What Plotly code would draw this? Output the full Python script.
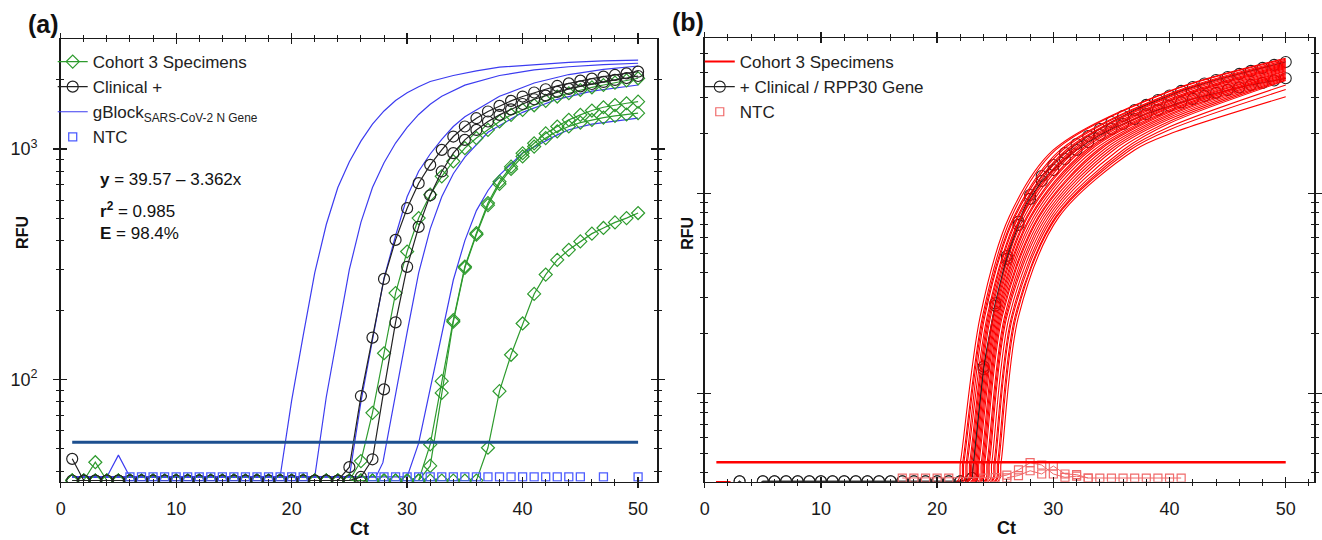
import plotly.graph_objects as go

W, H = 1322, 540
CYCLES = list(range(1, 51))

# ---------------- panel (a) data (RFU per cycle) ----------------
A_CLINICAL_1 = [
    45.3, 36.5, 36.5, 36.5, 36.5, 36.5, 36.5, 36.5, 36.5, 36.5,
    36.5, 36.5, 36.5, 36.5, 36.5, 36.5, 36.5, 36.5, 36.5, 36.5,
    36.5, 36.5, 36.5, 36.5, 41.7, 84.8, 152, 273, 403, 553,
    710, 852, 990, 1131, 1250, 1358, 1452, 1536, 1615, 1686,
    1755, 1813, 1874, 1923, 1976, 2015, 2057, 2091, 2125, 2161,
]
A_CLINICAL_2 = [
    36.5, 36.5, 36.5, 36.5, 36.5, 36.5, 36.5, 36.5, 36.5, 36.5,
    36.5, 36.5, 36.5, 36.5, 36.5, 36.5, 36.5, 36.5, 36.5, 36.5,
    36.5, 36.5, 36.5, 36.5, 36.5, 37.8, 45.1, 90.6, 177, 308,
    459, 629, 798, 958, 1094, 1208, 1314, 1404, 1484, 1565,
    1641, 1702, 1766, 1820, 1867, 1911, 1950, 1990, 2028, 2070,
]
A_COHORT_1 = [
    36.5, 36.5, 36.5, 36.5, 36.5, 36.5, 36.5, 36.5, 36.5, 36.5,
    36.5, 36.5, 36.5, 36.5, 36.5, 36.5, 36.5, 36.5, 36.5, 36.5,
    36.5, 36.5, 36.5, 36.5, 36.5, 44.3, 71.7, 130, 237, 359,
    501, 633, 760, 883, 1008, 1114, 1208, 1314, 1404, 1476,
    1545, 1615, 1686, 1742, 1800, 1849, 1892, 1936, 1982, 2023,
]
A_COHORT_2 = [
    36.5, 36.5, 36.5, 36.5, 36.5, 36.5, 36.5, 36.5, 36.5, 36.5,
    36.5, 36.5, 36.5, 36.5, 36.5, 36.5, 36.5, 36.5, 36.5, 36.5,
    36.5, 36.5, 36.5, 36.5, 36.5, 36.5, 36.5, 36.5, 36.5, 36.5,
    36.5, 52.3, 98.4, 181, 309, 431, 582, 721, 837, 957,
    1057, 1167, 1250, 1336, 1404, 1466, 1515, 1549, 1577, 1602,
]
A_COHORT_3 = [
    36.5, 36.5, 36.5, 36.5, 36.5, 36.5, 36.5, 36.5, 36.5, 36.5,
    36.5, 36.5, 36.5, 36.5, 36.5, 36.5, 36.5, 36.5, 36.5, 36.5,
    36.5, 36.5, 36.5, 36.5, 36.5, 36.5, 36.5, 36.5, 36.5, 36.5,
    36.5, 42.2, 87.5, 178, 305, 425, 570, 705, 818, 927,
    1023, 1114, 1191, 1250, 1300, 1336, 1367, 1390, 1409, 1428,
]
A_COHORT_4 = [
    36.5, 36.5, 43.8, 36.5, 36.5, 36.5, 36.5, 36.5, 36.5, 36.5,
    36.5, 36.5, 36.5, 36.5, 36.5, 36.5, 36.5, 36.5, 36.5, 36.5,
    36.5, 36.5, 36.5, 36.5, 36.5, 36.5, 36.5, 36.5, 36.5, 36.5,
    36.5, 36.5, 36.5, 36.5, 36.5, 36.5, 50.6, 89, 128, 175,
    235, 285, 330, 365, 397, 429, 454, 480, 501, 527,
]
A_NTC_CT = [6, 7, 8, 9, 10, 11, 12, 13, 14, 15, 16, 17, 18, 19, 20, 21,
            27, 28, 29, 30, 31, 32, 33, 34, 35, 36, 37, 38, 39, 40, 41, 42,
            43, 44, 45, 47, 50]
A_NTC_RFU = [37.8, 37.8, 37.8, 37.8, 37.8, 37.8, 37.8, 37.8, 37.8, 37.8,
             37.8, 37.8, 37.8, 37.8, 37.8, 37.8, 37.8, 37.8, 37.8, 37.8,
             37.8, 37.8, 37.8, 37.8, 37.8, 37.8, 37.8, 37.8, 37.8, 37.8,
             37.8, 37.8, 37.8, 37.8, 37.8, 37.8, 37.8]

# gBlock standard curves (Ct, RFU)
A_GB1_CT = [1, 4, 5, 6, 19, 20, 21, 22, 23, 24, 25, 26, 27, 28, 29, 30, 31, 32, 34, 36, 38, 41, 44, 47, 50]
A_GB1_RFU = [37.8, 37.8, 47, 37.8, 37.8, 81, 155, 290, 470, 680, 880, 1080, 1280, 1460, 1620, 1750,
             1860, 1960, 2080, 2180, 2260, 2320, 2370, 2405, 2427]
A_GB2_CT = [1, 22, 23, 24, 25, 26, 27, 28, 29, 30, 31, 32, 33, 35, 38, 41, 44, 47, 50]
A_GB2_RFU = [37.8, 37.8, 84, 160, 300, 480, 680, 870, 1060, 1240, 1410, 1560, 1690, 1890, 2080, 2200,
             2270, 2320, 2350]
A_GB3_CT = [1, 25, 26, 27, 28, 29, 30, 31, 32, 33, 34, 35, 38, 41, 44, 47, 50]
A_GB3_RFU = [37.8, 37.8, 80, 150, 275, 420, 620, 800, 950, 1100, 1250, 1378, 1690, 1930, 2100, 2210, 2287]
A_GB4_CT = [1, 27.3, 27.9, 29, 30, 31, 32, 33, 34, 35, 37, 40, 43, 46, 50]
A_GB4_RFU = [37.8, 37.8, 43.6, 87, 160, 290, 450, 620, 780, 920, 1180, 1440, 1640, 1780, 1892]
A_GB5_CT = [1, 30, 31, 32, 33, 34, 35, 36, 37, 38, 40, 41, 43, 44, 46, 50]
A_GB5_RFU = [37.8, 37.8, 53, 92, 160, 270, 400, 540, 660, 770, 960, 1020, 1150, 1210, 1280, 1358]

A_THRESHOLD_CT = [1, 50]
A_THRESHOLD_RFU = [53.4, 53.4]

# ---------------- panel (b) data ----------------
B_CLINICAL_1 = [
    33, 33, 36.3, 33, 36.3, 36.3, 36.3, 36.3, 36.3, 36.3,
    36.3, 36.3, 36.3, 36.3, 36.3, 36.3, 36.3, 36.3, 36.3, 36.3,
    36.3, 36.3, 37.7, 136, 282, 486, 721, 981, 1221, 1386,
    1591, 1764, 1935, 2097, 2273, 2436, 2611, 2767, 2929, 3085,
    3250, 3403, 3540, 3687, 3818, 3953, 4093, 4236, 4385, 4538,
]
B_CLINICAL_2 = [
    33, 33, 36.3, 33, 36.3, 36.3, 36.3, 36.3, 36.3, 36.3,
    36.3, 36.3, 36.3, 36.3, 36.3, 36.3, 36.3, 36.3, 36.3, 36.3,
    36.3, 36.3, 37.7, 132, 274, 470, 695, 938, 1153, 1308,
    1485, 1647, 1806, 1958, 2097, 2221, 2353, 2493, 2611, 2735,
    2847, 2965, 3069, 3178, 3289, 3382, 3483, 3565, 3667, 3758,
]
B_NTC1_CT = [17, 18, 19, 20, 21, 24, 25, 26, 27, 28, 29, 30, 31, 32, 33, 34, 35, 36, 37, 38, 39, 40, 41]
B_NTC1_RFU = [37.7, 37.7, 37.7, 37.7, 37.7, 37.7, 37.9, 39, 41.4, 45, 43.8, 39.5, 38, 38.5, 37.7, 37.7,
              37.7, 37.7, 37.7, 37.7, 37.7, 37.7, 37.7]
B_NTC2_CT = [26, 27, 28, 29, 30, 31, 32, 33]
B_NTC2_RFU = [37.8, 38.8, 41, 39.5, 43.3, 39.5, 39.2, 37.7]

B_THRESHOLD_CT = [1, 50]
B_THRESHOLD_RFU = [45.2, 45.2]

# Cohort 3 specimen curves: read per curve
RED_BASE_RFU = 36.2
RED_LEVELS = [45, 242, 764, 1647]          # RFU levels at which Ct was read
RED_START = [1] * 26
RED_LEAVE = [21.7, 21.9, 22.0, 22.2, 22.3, 22.5, 22.6, 22.7, 22.9, 23.0, 23.1, 23.2, 23.3,
             23.5, 23.6, 23.7, 23.8, 24.0, 24.1, 24.2, 24.4, 24.6, 24.7, 24.9, 25.0, 25.2]
RED_CT_45 = [22.0, 22.2, 22.3, 22.5, 22.6, 22.8, 22.9, 23.0, 23.2, 23.3, 23.4, 23.5, 23.6,
             23.8, 23.9, 24.0, 24.1, 24.3, 24.4, 24.5, 24.7, 24.9, 25.0, 25.2, 25.3, 25.5]
RED_CT_242 = [23.7, 23.9, 24.0, 24.1, 24.3, 24.4, 24.5, 24.6, 24.8, 24.9, 25.0, 25.1, 25.2,
              25.3, 25.4, 25.5, 25.6, 25.8, 25.9, 26.0, 26.2, 26.4, 26.5, 26.7, 26.8, 27.0]
RED_CT_764 = [26.2, 26.4, 26.6, 26.7, 26.9, 27.0, 27.2, 27.3, 27.5, 27.7, 27.8, 28.0, 28.1,
              28.3, 28.5, 28.7, 28.8, 29.0, 29.2, 29.4, 29.6, 29.8, 30.0, 30.2, 30.3, 30.5]
RED_CT_1647 = [30.0, 30.2, 30.6, 30.8, 31.1, 31.3, 31.6, 31.8, 32.0, 32.3, 32.5, 32.8, 33.0,
               33.2, 33.5, 33.8, 34.0, 34.3, 34.6, 34.9, 35.2, 35.6, 36.0, 36.3, 36.6, 37.0]
RED_RFU_CT40 = [3250, 3230, 3150, 3120, 3060, 3020, 2960, 2920, 2880, 2830, 2790, 2740, 2700,
                2670, 2620, 2580, 2540, 2490, 2450, 2400, 2350, 2290, 2240, 2150, 2080, 1980]
RED_RFU_CT50 = [4730, 4680, 4620, 4560, 4500, 4450, 4400, 4350, 4300, 4250, 4200, 4150, 4100,
                4060, 4010, 3960, 3920, 3870, 3820, 3780, 3740, 3700, 3660, 3480, 3300, 3040]

# ---------------- styling ----------------
FONT = "Liberation Sans, Arial, sans-serif"
NARROW = "Liberation Sans Narrow, Arial Narrow, Liberation Sans, Arial, sans-serif"
AX = "#1a1a1a"
GREEN = "#2e9b2e"
BLUE = "#3c3cf0"
NTC_BLUE = "#4d5dff"
THR_BLUE = "#1c4f8f"
RED = "#ff0000"
NTC_RED = "#f06a6a"

fig = go.Figure()

# ---- panel (a) ----
gb = [(A_GB1_CT, A_GB1_RFU), (A_GB2_CT, A_GB2_RFU), (A_GB3_CT, A_GB3_RFU),
      (A_GB4_CT, A_GB4_RFU), (A_GB5_CT, A_GB5_RFU)]
for i, (cx, cy) in enumerate(gb):
    fig.add_trace(go.Scatter(
        x=cx, y=cy, mode="lines", line=dict(color=BLUE, width=1.2),
        name="gBlock<sub>SARS-CoV-2 N Gene</sub>", showlegend=(i == 0), legendrank=3,
        legend="legend", xaxis="x", yaxis="y", hoverinfo="skip"))

for i, series in enumerate([A_COHORT_1, A_COHORT_2, A_COHORT_3, A_COHORT_4]):
    fig.add_trace(go.Scatter(
        x=CYCLES, y=series, mode="lines+markers",
        line=dict(color=GREEN, width=1.2),
        marker=dict(symbol="diamond-open", size=10, color=GREEN, line=dict(width=1.2)),
        name="Cohort 3 Specimens", showlegend=(i == 0), legendrank=1,
        legend="legend", xaxis="x", yaxis="y", hoverinfo="skip"))

for i, series in enumerate([A_CLINICAL_1, A_CLINICAL_2]):
    fig.add_trace(go.Scatter(
        x=CYCLES, y=series, mode="lines+markers",
        line=dict(color="#222222", width=1.2),
        marker=dict(symbol="circle-open", size=11, color="#222222", line=dict(width=1.2)),
        name="Clinical +", showlegend=(i == 0), legendrank=2,
        legend="legend", xaxis="x", yaxis="y", hoverinfo="skip"))

fig.add_trace(go.Scatter(
    x=A_NTC_CT, y=A_NTC_RFU, mode="markers",
    marker=dict(symbol="square-open", size=8, color=NTC_BLUE, line=dict(width=1.3)),
    name="NTC", legendrank=4, legend="legend", xaxis="x", yaxis="y", hoverinfo="skip"))

fig.add_trace(go.Scatter(
    x=A_THRESHOLD_CT, y=A_THRESHOLD_RFU, mode="lines",
    line=dict(color=THR_BLUE, width=3), showlegend=False,
    xaxis="x", yaxis="y", hoverinfo="skip"))

# ---- panel (b) ----
for i, series in enumerate([B_CLINICAL_1, B_CLINICAL_2]):
    fig.add_trace(go.Scatter(
        x=CYCLES, y=series, mode="lines+markers",
        line=dict(color="#222222", width=1.2),
        marker=dict(symbol="circle-open", size=11, color="#222222", line=dict(width=1.1)),
        name="+ Clinical / RPP30 Gene", showlegend=(i == 0), legendrank=2,
        legend="legend2", xaxis="x2", yaxis="y2", hoverinfo="skip"))

for i in range(len(RED_CT_45)):
    cx = [RED_START[i], RED_LEAVE[i], RED_CT_45[i], RED_CT_242[i], RED_CT_764[i],
          RED_CT_1647[i], 40, 50]
    cy = [RED_BASE_RFU, RED_BASE_RFU] + RED_LEVELS + [RED_RFU_CT40[i], RED_RFU_CT50[i]]
    fig.add_trace(go.Scatter(
        x=cx, y=cy, mode="lines", line=dict(color=RED, width=1.1, shape="spline", smoothing=0.9),
        name="Cohort 3 Specimens", showlegend=False,
        legend="legend2", xaxis="x2", yaxis="y2", hoverinfo="skip"))
# legend entry for the specimen curves (plain red line sample)
fig.add_trace(go.Scatter(
    x=[None], y=[None], mode="lines", line=dict(color=RED, width=2),
    name="Cohort 3 Specimens", legendrank=1, legend="legend2", xaxis="x2", yaxis="y2"))

for cx, cy in [(B_NTC1_CT, B_NTC1_RFU), (B_NTC2_CT, B_NTC2_RFU)]:
    fig.add_trace(go.Scatter(
        x=cx, y=cy, mode="lines+markers", line=dict(color=NTC_RED, width=1),
        marker=dict(symbol="square-open", size=8, color=NTC_RED, line=dict(width=1.2)),
        showlegend=False, xaxis="x2", yaxis="y2", hoverinfo="skip"))
fig.add_trace(go.Scatter(
    x=[None], y=[None], mode="markers",
    marker=dict(symbol="square-open", size=8, color=NTC_RED, line=dict(width=1.2)),
    name="NTC", legendrank=3, legend="legend2", xaxis="x2", yaxis="y2"))

fig.add_trace(go.Scatter(
    x=B_THRESHOLD_CT, y=B_THRESHOLD_RFU, mode="lines",
    line=dict(color=RED, width=2.5), showlegend=False,
    xaxis="x2", yaxis="y2", hoverinfo="skip"))

# dummy traces so overlay (inside-tick) axes are drawn
fig.add_trace(go.Scatter(x=[None], y=[None], xaxis="x3", yaxis="y3", showlegend=False))
fig.add_trace(go.Scatter(x=[None], y=[None], xaxis="x4", yaxis="y4", showlegend=False))

# ---------------- axes ----------------
A_XDOM = [56 / W, 656 / W]
B_XDOM = [704 / W, 1317.3 / W]
A_YDOM = [1 - 481.7 / H, 1 - 39.3 / H]
B_YDOM = [1 - 481.7 / H, 1 - 38.3 / H]
A_XRANGE = [0, 51.64]
B_XRANGE = [0, 52.46]
A_YRANGE = [1.557, 3.475]
B_YRANGE = [1.558, 3.775]
A_YMINOR = [40, 50, 60, 70, 80, 90, 200, 300, 400, 500, 600, 700, 800, 900, 2000]
B_YMINOR = [40, 50, 60, 70, 80, 90, 200, 300, 400, 500, 600, 700, 800, 900, 2000, 3000, 4000, 5000]
TICKFONT = dict(family=NARROW, size=18, color=AX)


def xaxis(dom, rng, anchor, inside=False, overlay=None, labels=True):
    side = "inside" if inside else "outside"
    d = dict(range=rng, anchor=anchor, tickmode="linear", tick0=0, dtick=10,
             ticks=side, ticklen=5, tickwidth=1.3, tickcolor=AX,
             minor=dict(tickmode="linear", tick0=0, dtick=2, ticks=side, ticklen=3,
                        tickwidth=1, tickcolor=AX, showgrid=False),
             mirror="ticks", showline=True, linecolor=AX, linewidth=1.6,
             showgrid=False, zeroline=False, showticklabels=labels,
             tickfont=TICKFONT, ticklabelstandoff=5)
    if overlay:
        d["overlaying"] = overlay
    else:
        d["domain"] = dom
    return d


def yaxis(dom, rng, anchor, minor_vals, ticktext, inside=False, overlay=None):
    side = "inside" if inside else "outside"
    d = dict(type="log", range=rng, anchor=anchor, tickmode="array",
             tickvals=[100, 1000], ticktext=ticktext,
             ticks=side, ticklen=6, tickwidth=1.3, tickcolor=AX,
             minor=dict(tickmode="array", tickvals=minor_vals, ticks=side, ticklen=3,
                        tickwidth=1, tickcolor=AX, showgrid=False),
             mirror="ticks", showline=True, linecolor=AX, linewidth=1.6,
             showgrid=False, zeroline=False, showticklabels=ticktext is not None and not inside,
             tickfont=TICKFONT, ticklabelstandoff=12)
    if overlay:
        d["overlaying"] = overlay
    else:
        d["domain"] = dom
    return d


fig.update_layout(
    width=W, height=H, margin=dict(l=0, r=0, t=0, b=0),
    paper_bgcolor="white", plot_bgcolor="white", showlegend=True,
    font=dict(family=FONT, color=AX),
    xaxis=xaxis(A_XDOM, A_XRANGE, "y"),
    yaxis=yaxis(A_YDOM, A_YRANGE, "x", A_YMINOR, ["10<sup>2</sup>", "10<sup>3</sup>"]),
    xaxis2=xaxis(B_XDOM, B_XRANGE, "y2"),
    yaxis2=yaxis(B_YDOM, B_YRANGE, "x2", B_YMINOR, None),
    xaxis3=xaxis(A_XDOM, A_XRANGE, "y3", inside=True, overlay="x", labels=False),
    yaxis3=yaxis(A_YDOM, A_YRANGE, "x3", A_YMINOR, None, inside=True, overlay="y"),
    xaxis4=xaxis(B_XDOM, B_XRANGE, "y4", inside=True, overlay="x2", labels=False),
    yaxis4=yaxis(B_YDOM, B_YRANGE, "x4", B_YMINOR, None, inside=True, overlay="y2"),
    legend=dict(x=48 / W, y=1 - 44 / H, xanchor="left", yanchor="top",
                font=dict(family=FONT, size=17, color="#222"), bgcolor="rgba(0,0,0,0)",
                itemwidth=30, tracegroupgap=0, traceorder="normal"),
    legend2=dict(x=699 / W, y=1 - 44 / H, xanchor="left", yanchor="top",
                 font=dict(family=FONT, size=17, color="#222"), bgcolor="rgba(0,0,0,0)",
                 itemwidth=30, tracegroupgap=0, traceorder="normal"),
)

ann = [
    dict(text="<b>(a)</b>", x=39 / W, y=1 - 24 / H, font=dict(size=25)),
    dict(text="<b>(b)</b>", x=687 / W, y=1 - 22 / H, font=dict(size=25)),
    dict(text="<b>RFU</b>", x=18 / W, y=1 - 232 / H, textangle=-90, font=dict(size=16)),
    dict(text="<b>RFU</b>", x=686 / W, y=1 - 233 / H, textangle=-90, font=dict(size=16)),
    dict(text="<b>Ct</b>", x=357 / W, y=1 - 529 / H, font=dict(size=18)),
    dict(text="<b>Ct</b>", x=1008 / W, y=1 - 528 / H, font=dict(size=18)),
    dict(text="<b>y</b> = 39.57 \u2013 3.362x", x=94 / W, y=1 - 180 / H, xanchor="left", font=dict(size=17)),
    dict(text="<b>r<sup>2</sup></b> = 0.985", x=94 / W, y=1 - 210 / H, xanchor="left", font=dict(size=17)),
    dict(text="<b>E</b> = 98.4%", x=94 / W, y=1 - 233 / H, xanchor="left", font=dict(size=17)),
]
for a in ann:
    a.setdefault("xanchor", "center")
    a.update(xref="paper", yref="paper", showarrow=False, yanchor="middle")
    a["font"] = dict(family=FONT, color="#111", **a["font"])
fig.update_layout(annotations=ann)

fig.write_html("out.html",
               config={"displayModeBar": False, "staticPlot": True},
               post_script="document.body.style.margin='0';document.body.style.overflow='hidden';")
